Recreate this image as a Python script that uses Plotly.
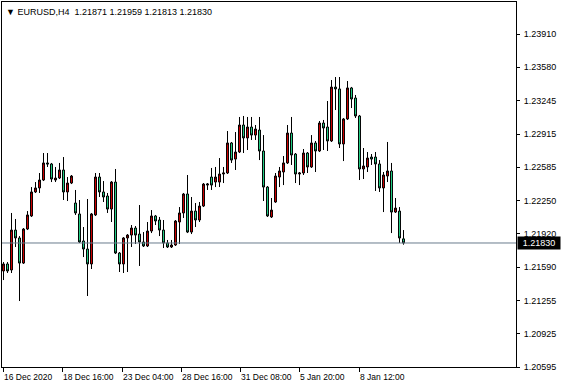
import plotly.graph_objects as go

symbol = "EURUSD,H4"

opens = [
    1.21551, 1.21621, 1.21561, 1.21959, 1.21880, 1.21630, 1.21969, 1.22099, 1.22338, 1.22378,
    1.22457, 1.22627, 1.22617, 1.22457, 1.22477, 1.22557, 1.22338, 1.22427, 1.22228, 1.22119,
    1.21850, 1.21770, 1.21621, 1.22109, 1.22487, 1.22338, 1.22298, 1.22168, 1.22437, 1.21730,
    1.21621, 1.21880, 1.21909, 1.21979, 1.21919, 1.21840, 1.21800, 1.21949, 1.22099, 1.22059,
    1.21959, 1.21830, 1.21790, 1.21810, 1.22039, 1.22129, 1.22318, 1.21939, 1.22148, 1.22059,
    1.22198, 1.22407, 1.22487, 1.22437, 1.22437, 1.22517, 1.22527, 1.22826, 1.22666, 1.22736,
    1.23005, 1.22876, 1.22985, 1.22905, 1.22955, 1.22746, 1.22387, 1.22089, 1.22238, 1.22487,
    1.22537, 1.22627, 1.22925, 1.22716, 1.22517, 1.22527, 1.22726, 1.22587, 1.22826, 1.22746,
    1.23025, 1.22985, 1.22846, 1.23383, 1.23364, 1.22816, 1.23065, 1.23374, 1.23274, 1.23095,
    1.22567, 1.22587, 1.22686, 1.22686, 1.22617, 1.22378, 1.22497, 1.22547, 1.22138, 1.22148,
    1.21871,
]

highs = [
    1.21640, 1.21640, 1.22129, 1.22069, 1.21899, 1.21979, 1.22148, 1.22387, 1.22437, 1.22527,
    1.22726, 1.22726, 1.22627, 1.22587, 1.22627, 1.22686, 1.22487, 1.22507, 1.22358, 1.22258,
    1.21989, 1.22268, 1.22129, 1.22527, 1.22527, 1.22447, 1.22328, 1.22447, 1.22567, 1.21740,
    1.21889, 1.21919, 1.22009, 1.21999, 1.22208, 1.21939, 1.22039, 1.22158, 1.22109, 1.22089,
    1.22059, 1.21860, 1.21860, 1.22059, 1.22188, 1.22328, 1.22507, 1.22288, 1.22228, 1.22238,
    1.22427, 1.22427, 1.22577, 1.22587, 1.22676, 1.22587, 1.22945, 1.22836, 1.22935, 1.23085,
    1.23095, 1.23085, 1.23085, 1.23005, 1.23085, 1.22905, 1.22397, 1.22278, 1.22527, 1.22587,
    1.22696, 1.23005, 1.23085, 1.22726, 1.22537, 1.22766, 1.22736, 1.22905, 1.22846, 1.23045,
    1.23055, 1.23244, 1.23453, 1.23483, 1.23483, 1.23075, 1.23443, 1.23384, 1.23304, 1.23105,
    1.22776, 1.22736, 1.22716, 1.22736, 1.22656, 1.22537, 1.22836, 1.22627, 1.22278, 1.22188,
    1.21959,
]

lows = [
    1.21461, 1.21531, 1.21531, 1.21790, 1.21252, 1.21621, 1.21959, 1.22089, 1.22328, 1.22328,
    1.22447, 1.22587, 1.22437, 1.22437, 1.22467, 1.22258, 1.22248, 1.22417, 1.22109, 1.21830,
    1.21690, 1.21302, 1.21571, 1.22099, 1.22288, 1.22238, 1.22129, 1.22039, 1.21720, 1.21541,
    1.21531, 1.21541, 1.21790, 1.21820, 1.21601, 1.21790, 1.21790, 1.21929, 1.22009, 1.21899,
    1.21780, 1.21780, 1.21780, 1.21800, 1.21820, 1.22079, 1.21929, 1.21919, 1.21989, 1.22039,
    1.22188, 1.22358, 1.22358, 1.22387, 1.22387, 1.22427, 1.22517, 1.22627, 1.22557, 1.22726,
    1.22726, 1.22756, 1.22856, 1.22856, 1.22656, 1.22248, 1.22089, 1.22079, 1.22230, 1.22387,
    1.22407, 1.22617, 1.22607, 1.22427, 1.22407, 1.22507, 1.22527, 1.22577, 1.22537, 1.22736,
    1.22756, 1.22746, 1.22836, 1.23154, 1.22776, 1.22646, 1.23055, 1.23174, 1.23075, 1.22457,
    1.22467, 1.22537, 1.22607, 1.22348, 1.22338, 1.22138, 1.22437, 1.21929, 1.22129, 1.21830,
    1.21813,
]

closes = [
    1.21621, 1.21551, 1.21959, 1.21880, 1.21630, 1.21969, 1.22109, 1.22338, 1.22378, 1.22457,
    1.22627, 1.22617, 1.22467, 1.22477, 1.22557, 1.22338, 1.22427, 1.22497, 1.22129, 1.21840,
    1.21770, 1.21621, 1.22119, 1.22487, 1.22338, 1.22288, 1.22168, 1.22437, 1.21730, 1.21621,
    1.21880, 1.21909, 1.21979, 1.21909, 1.21840, 1.21800, 1.21949, 1.22099, 1.22049, 1.21959,
    1.21830, 1.21790, 1.21810, 1.22049, 1.22129, 1.22318, 1.21939, 1.22148, 1.22059, 1.22198,
    1.22417, 1.22417, 1.22407, 1.22487, 1.22517, 1.22527, 1.22826, 1.22656, 1.22736, 1.23005,
    1.22876, 1.22985, 1.22905, 1.22965, 1.22746, 1.22387, 1.22099, 1.22158, 1.22497, 1.22547,
    1.22627, 1.22925, 1.22706, 1.22517, 1.22527, 1.22726, 1.22587, 1.22826, 1.22746, 1.23025,
    1.22975, 1.22846, 1.23383, 1.23364, 1.22816, 1.23065, 1.23374, 1.23264, 1.23095, 1.22567,
    1.22597, 1.22676, 1.22666, 1.22617, 1.22378, 1.22507, 1.22547, 1.22138, 1.22178, 1.21880,
    1.21830,
]

price_ticks = [1.23910, 1.23580, 1.23245, 1.22915, 1.22585, 1.22250,
               1.21920, 1.21590, 1.21255, 1.20925, 1.20595]

time_labels = ["16 Dec 2020", "18 Dec 16:00", "23 Dec 04:00", "28 Dec 16:00",
               "31 Dec 08:00", "5 Jan 20:00", "8 Jan 12:00"]
time_label_bars = [0, 14.75, 29.75, 44.5, 59.25, 74, 89]

bars = list(range(len(opens)))
last_close = closes[-1]

FONT = "Liberation Sans, Arial, sans-serif"

fig = go.Figure()
fig.add_trace(go.Candlestick(
    x=bars, open=opens, high=highs, low=lows, close=closes,
    increasing=dict(line=dict(color="black", width=1), fillcolor="#d40000"),
    decreasing=dict(line=dict(color="black", width=1), fillcolor="#22d68a"),
    whiskerwidth=0, showlegend=False, hoverinfo="skip",
))

# current price line
fig.add_shape(type="line", xref="paper", x0=0, x1=1, yref="y",
              y0=last_close, y1=last_close,
              line=dict(color="#6a7b8c", width=1), layer="above")

annotations = []
# title
annotations.append(dict(
    xref="paper", yref="paper", x=0, y=1, xanchor="left", yanchor="top",
    xshift=2, yshift=-3, showarrow=False,
    text="\u25BC " + symbol + "\u00a0\u00a0"
         + f"{opens[-1]:.5f} {highs[-1]:.5f} {lows[-1]:.5f} {closes[-1]:.5f}",
    font=dict(family=FONT, size=9, color="black"),
))
# price box
annotations.append(dict(
    xref="paper", yref="y", x=1, y=last_close, xanchor="left", yanchor="middle",
    xshift=1, showarrow=False, text=f"{last_close:.5f}",
    bgcolor="black", font=dict(family=FONT, size=9, color="white"),
    width=40, height=10, borderpad=1,
))
# time labels (left-aligned at the tick, MT4 style)
for lab, b in zip(time_labels, time_label_bars):
    annotations.append(dict(
        xref="x", yref="paper", x=b, y=0, xanchor="left", yanchor="top",
        xshift=-2, yshift=-3, showarrow=False, text=lab,
        font=dict(family=FONT, size=8.5, color="black"),
    ))

fig.update_layout(
    width=563, height=389,
    margin=dict(l=2, r=47, t=2, b=22, pad=0),
    paper_bgcolor="white", plot_bgcolor="white",
    annotations=annotations,
    xaxis=dict(
        range=[-0.375, 128.125], showgrid=False, zeroline=False,
        rangeslider=dict(visible=False),
        showline=True, linecolor="black", linewidth=1, mirror=True,
        tickmode="array", tickvals=time_label_bars, ticktext=[""] * len(time_label_bars),
        ticks="outside", ticklen=4, tickcolor="black", tickwidth=1,
        showticklabels=False,
    ),
    yaxis=dict(
        range=[1.20595, 1.24230], side="right", showgrid=False, zeroline=False,
        showline=True, linecolor="black", linewidth=1, mirror=True,
        tickmode="array", tickvals=price_ticks,
        ticktext=[f"{v:.5f}" for v in price_ticks],
        ticks="outside", ticklen=3, tickcolor="black", tickwidth=1,
        ticklabelstandoff=2,
        tickfont=dict(family=FONT, size=9, color="black"),
    ),
    hovermode=False,
)

fig.write_html("out.html")
